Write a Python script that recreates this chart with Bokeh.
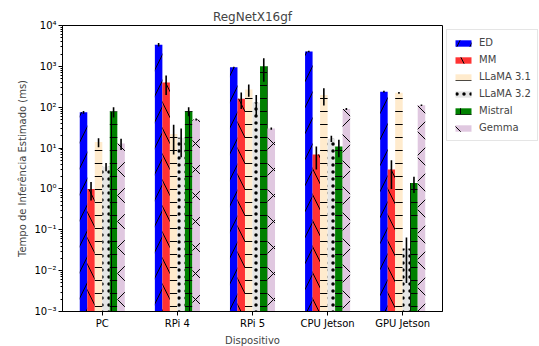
import numpy as np
from bokeh.plotting import figure
from bokeh.models import Range1d, FixedTicker, Legend, LegendItem, CustomJSTickFormatter
from bokeh.embed import file_html
from bokeh.resources import INLINE

devices = ["PC", "RPi 4", "RPi 5", "CPU Jetson", "GPU Jetson"]
series_names = ["ED", "MM", "LLaMA 3.1", "LLaMA 3.2", "Mistral", "Gemma"]

ED = [75, 3400, 950, 2300, 240]
ED_err = [6, 350, 30, 100, 12]
MM = [1.0, 400, 160, 7.0, 3.0]
MM_err = [0.48, 200, 70, 4.0, 2.0]
LLaMA31 = [14, 22, 270, 200, 225]
LLaMA31_err = [3.5, 15, 90, 90, 10]
LLaMA32 = [3.5, 18, 130, 17, 0.035]
LLaMA32_err = [0.8, 12, 70, 3, 0.03]
Mistral = [78, 80, 1000, 11, 1.4]
Mistral_err = [22, 20, 580, 5, 0.6]
Gemma = [13, 50, 30, 90, 112]
Gemma_err = [4, 3, 2, 5, 5]

values = [ED, MM, LLaMA31, LLaMA32, Mistral, Gemma]
errors = [ED_err, MM_err, LLaMA31_err, LLaMA32_err, Mistral_err, Gemma_err]

colors = ["#0000ff", "#ff3333", "#ffebcd", "#e5e5e5", "#008000", "#e0c8e0"]
hatches = ["/", "\\", "-", ".", "+", "x"]
hatch_scales = [26, 26, 13, 7, 13, 26]

bar_w = 0.1
offsets = [-0.25, -0.15, -0.05, 0.05, 0.15, 0.25]
ymin, ymax = 1e-3, 1e4

p = figure(frame_width=380, frame_height=286, y_axis_type="log",
           x_range=Range1d(-0.53, 4.53), y_range=Range1d(ymin, ymax),
           output_backend="svg", toolbar_location=None, title="RegNetX16gf",
           min_border_left=62, min_border_bottom=35, min_border_top=25, min_border_right=0)

font = "DejaVu Sans"
p.title.align = "center"
p.title.text_font = font
p.title.text_font_size = "12px"
p.title.text_font_style = "normal"
p.title.standoff = 4

p.xgrid.visible = False
p.ygrid.visible = False
p.outline_line_color = "black"
p.outline_line_width = 1

items = []
base = np.arange(len(devices))
for i, name in enumerate(series_names):
    xs = base + offsets[i]
    vals = np.array(values[i], dtype=float)
    errs = np.array(errors[i], dtype=float)
    r = p.vbar(x=xs, top=vals, bottom=ymin, width=bar_w, fill_color=colors[i], line_color=None,
               hatch_pattern=hatches[i], hatch_color="black", hatch_scale=hatch_scales[i],
               hatch_weight=1)
    lo = np.maximum(vals - errs, ymin)
    hi = vals + errs
    p.segment(x0=xs, y0=lo, x1=xs, y1=hi, line_color="black", line_width=1.6)
    items.append(LegendItem(label=name, renderers=[r]))

legend = Legend(items=items, location="top_left")
legend.label_text_font = font
legend.label_text_font_size = "10px"
legend.glyph_width = 20
legend.glyph_height = 8
legend.label_height = 13
legend.spacing = 4
legend.padding = 6
legend.margin = 4
legend.label_standoff = 6
legend.border_line_color = "#cccccc"
legend.border_line_width = 1
p.add_layout(legend, "right")

p.xaxis.ticker = FixedTicker(ticks=list(range(len(devices))))
p.xaxis.major_label_overrides = {i: d for i, d in enumerate(devices)}
p.xaxis.minor_tick_line_color = None
p.xaxis.axis_label = "Dispositivo"

decades = [10.0 ** k for k in range(-3, 5)]
minors = [m * 10.0 ** k for k in range(-3, 4) for m in range(2, 10)]
p.yaxis.ticker = FixedTicker(ticks=decades, minor_ticks=minors)
p.yaxis.formatter = CustomJSTickFormatter(code="""
const e = Math.round(Math.log10(tick));
const sup = {"-":"\u207b","0":"\u2070","1":"\u00b9","2":"\u00b2","3":"\u00b3","4":"\u2074","5":"\u2075","6":"\u2076","7":"\u2077","8":"\u2078","9":"\u2079"};
return "10" + String(e).split("").map(c => sup[c]).join("");
""")
p.yaxis.axis_label = "Tempo de Inferência Estimado (ms)"

for ax in [p.xaxis[0], p.yaxis[0]]:
    ax.axis_label_text_font = font
    ax.axis_label_text_font_size = "10px"
    ax.axis_label_text_font_style = "normal"
    ax.major_label_text_font = font
    ax.major_label_text_font_size = "10px"
    ax.major_label_text_color = "black"
    ax.axis_line_color = "black"
    ax.major_tick_line_color = "black"
    ax.major_tick_out = 4
    ax.major_tick_in = 0
    ax.minor_tick_out = 2
    ax.minor_tick_in = 0
    ax.major_label_standoff = 2
    ax.axis_label_standoff = 3

open("out.html", "w").write(file_html(p, INLINE))
